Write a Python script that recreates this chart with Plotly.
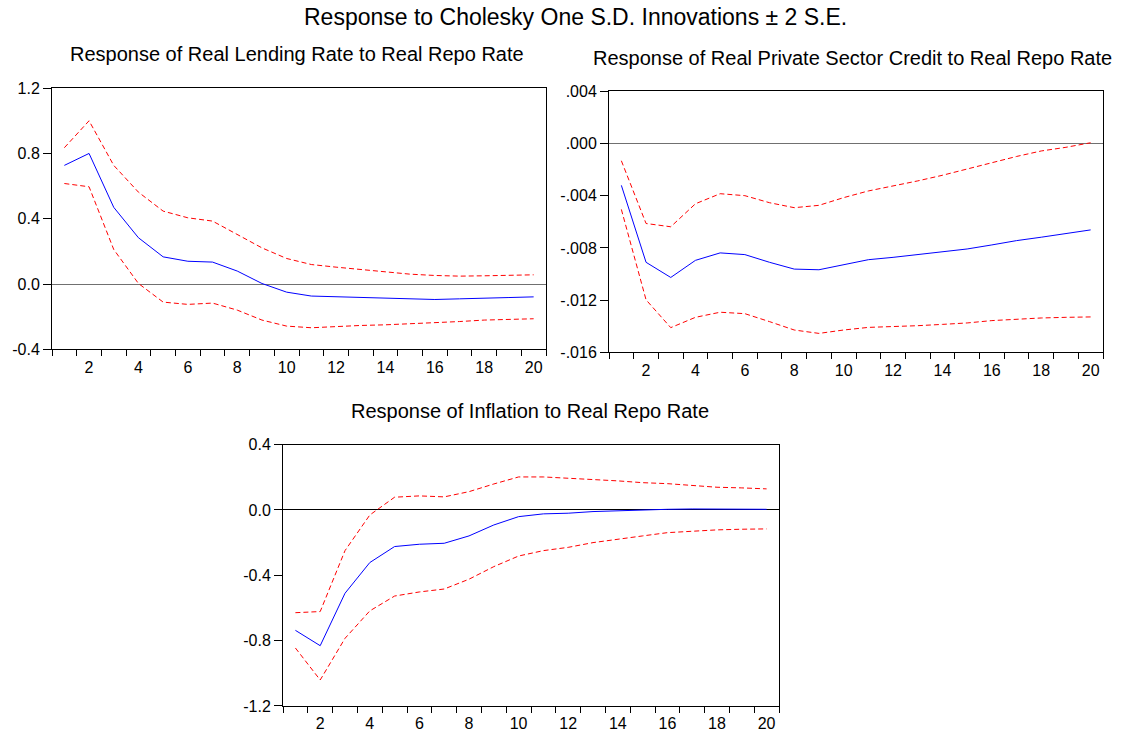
import plotly.graph_objects as go

W, H = 1136, 736

periods = list(range(1, 21))

# Panel 1: Response of Real Lending Rate to Real Repo Rate
lend_resp = [0.727, 0.80, 0.47, 0.284, 0.167, 0.14, 0.135, 0.08, 0.004, -0.049,
             -0.073, -0.078, -0.082, -0.088, -0.092, -0.094, -0.09, -0.084, -0.082, -0.078]
lend_up = [0.835, 1.0, 0.727, 0.563, 0.447, 0.406, 0.386, 0.304, 0.222, 0.157,
           0.12, 0.104, 0.09, 0.073, 0.061, 0.053, 0.049, 0.051, 0.055, 0.057]
lend_lo = [0.616, 0.596, 0.212, 0.004, -0.11, -0.124, -0.116, -0.159, -0.22, -0.257,
           -0.267, -0.259, -0.253, -0.249, -0.243, -0.237, -0.229, -0.22, -0.216, -0.212]

# Panel 2: Response of Real Private Sector Credit to Real Repo Rate
cred_resp = [-0.00321, -0.0091, -0.01026, -0.00895, -0.00838, -0.00851, -0.0091, -0.00962, -0.00967, -0.00928,
             -0.0089, -0.00872, -0.00851, -0.00831, -0.00808, -0.00777, -0.00744, -0.00718, -0.0069, -0.00662]
cred_up = [-0.00133, -0.00613, -0.00638, -0.00462, -0.00385, -0.004, -0.00454, -0.00492, -0.00474, -0.00415,
           -0.00364, -0.00326, -0.00287, -0.00244, -0.00197, -0.00146, -0.001, -0.00058, -0.0003, 0.00005]
cred_lo = [-0.00505, -0.01197, -0.0141, -0.01331, -0.01292, -0.01303, -0.01364, -0.01428, -0.01454, -0.01428,
           -0.01408, -0.01403, -0.01395, -0.01385, -0.01374, -0.01356, -0.01344, -0.01336, -0.01331, -0.01328]

# Panel 3: Response of Inflation to Real Repo Rate
infl_resp = [-0.737, -0.831, -0.51, -0.322, -0.224, -0.21, -0.204, -0.159, -0.092, -0.041,
             -0.024, -0.02, -0.01, -0.004, -0.002, 0.004, 0.006, 0.004, 0.004, 0.004]
infl_up = [-0.629, -0.622, -0.249, -0.031, 0.078, 0.086, 0.08, 0.112, 0.159, 0.202,
           0.202, 0.192, 0.186, 0.178, 0.167, 0.161, 0.151, 0.139, 0.135, 0.129]
infl_lo = [-0.845, -1.041, -0.786, -0.618, -0.527, -0.502, -0.484, -0.424, -0.347, -0.282,
           -0.249, -0.229, -0.2, -0.178, -0.159, -0.139, -0.129, -0.122, -0.118, -0.116]

x_labels = ["2", "4", "6", "8", "10", "12", "14", "16", "18", "20"]
x_label_vals = [2, 4, 6, 8, 10, 12, 14, 16, 18, 20]
x_minor_vals = [i + 0.5 for i in range(0, 21)]

y1_vals = [-0.4, 0.0, 0.4, 0.8, 1.2]
y1_text = ["-0.4", "0.0", "0.4", "0.8", "1.2"]
y2_vals = [-0.016, -0.012, -0.008, -0.004, 0.0, 0.004]
y2_text = ["-.016", "-.012", "-.008", "-.004", ".000", ".004"]
y3_vals = [-1.2, -0.8, -0.4, 0.0, 0.4]
y3_text = ["-1.2", "-0.8", "-0.4", "0.0", "0.4"]

main_title = "Response to Cholesky One S.D. Innovations \u00b1 2 S.E."
titles = ["Response of Real Lending Rate to Real Repo Rate",
          "Response of Real Private Sector Credit to Real Repo Rate",
          "Response of Inflation to Real Repo Rate"]

FONT = "Liberation Sans, Arial, sans-serif"

# effective vertical drawing extent observed in the rendered page
V_OFF, V_H = 9.0, 718.0

fig = go.Figure()

panels = [
    ("x", "y", lend_resp, lend_up, lend_lo),
    ("x2", "y2", cred_resp, cred_up, cred_lo),
    ("x3", "y3", infl_resp, infl_up, infl_lo),
]
for xa, ya, resp, up, lo in panels:
    fig.add_trace(go.Scatter(x=periods, y=up, xaxis=xa, yaxis=ya, mode="lines",
                             line=dict(color="#FF0000", width=1, dash="5px,3px"), showlegend=False))
    fig.add_trace(go.Scatter(x=periods, y=lo, xaxis=xa, yaxis=ya, mode="lines",
                             line=dict(color="#FF0000", width=1, dash="5px,3px"), showlegend=False))
    fig.add_trace(go.Scatter(x=periods, y=resp, xaxis=xa, yaxis=ya, mode="lines",
                             line=dict(color="#0000FF", width=1), showlegend=False))


def px_x(p):
    return p / W


def px_y(p):
    return 1 - (p - V_OFF) / V_H


def xaxis_cfg(x0, x1, anchor):
    return dict(domain=[px_x(x0), px_x(x1)], anchor=anchor, range=[0.5, 20.5],
                showgrid=False, zeroline=False, showline=True, mirror=True,
                linecolor="black", linewidth=1,
                tickmode="array", tickvals=x_label_vals, ticktext=x_labels,
                ticks="outside", ticklen=3, tickcolor="rgba(0,0,0,0)",
                tickfont=dict(family=FONT, size=16, color="black"),
                minor=dict(tickmode="array", tickvals=x_minor_vals, ticks="outside",
                           ticklen=6, tickcolor="black", tickwidth=1, showgrid=False))


def yaxis_cfg(y0, y1, anchor, rng, vals, text, zcol):
    return dict(domain=[px_y(y1), px_y(y0)], anchor=anchor, range=rng,
                showgrid=False, zeroline=True, zerolinecolor=zcol, zerolinewidth=1,
                showline=True, mirror=True, linecolor="black", linewidth=1,
                tickmode="array", tickvals=vals, ticktext=text,
                ticks="outside", ticklen=8, tickcolor="black", tickwidth=1,
                tickfont=dict(family=FONT, size=16, color="black"))


fig.update_layout(
    width=W, height=H, margin=dict(l=0, r=0, t=0, b=0),
    paper_bgcolor="white", plot_bgcolor="white",
    font=dict(family=FONT, color="black"),
    xaxis=xaxis_cfg(52, 546, "y"),
    yaxis=yaxis_cfg(89, 350, "x", [-0.4, 1.2], y1_vals, y1_text, "#707070"),
    xaxis2=xaxis_cfg(609, 1103, "y2"),
    yaxis2=yaxis_cfg(92, 353, "x2", [-0.016, 0.004], y2_vals, y2_text, "#707070"),
    xaxis3=xaxis_cfg(283, 779, "y3"),
    yaxis3=yaxis_cfg(445, 706, "x3", [-1.2, 0.4], y3_vals, y3_text, "black"),
)

ann = [
    (main_title, 575, 18, 23),
    (titles[0], 297, 55, 20),
    (titles[1], 852, 59, 20),
    (titles[2], 530, 411, 20),
]
for text, cx, cy, size in ann:
    fig.add_annotation(text=text, x=px_x(cx), y=px_y(cy), xref="paper", yref="paper",
                       xanchor="center", yanchor="middle", showarrow=False,
                       font=dict(family=FONT, size=size, color="black"))

fig.write_html("out.html")
